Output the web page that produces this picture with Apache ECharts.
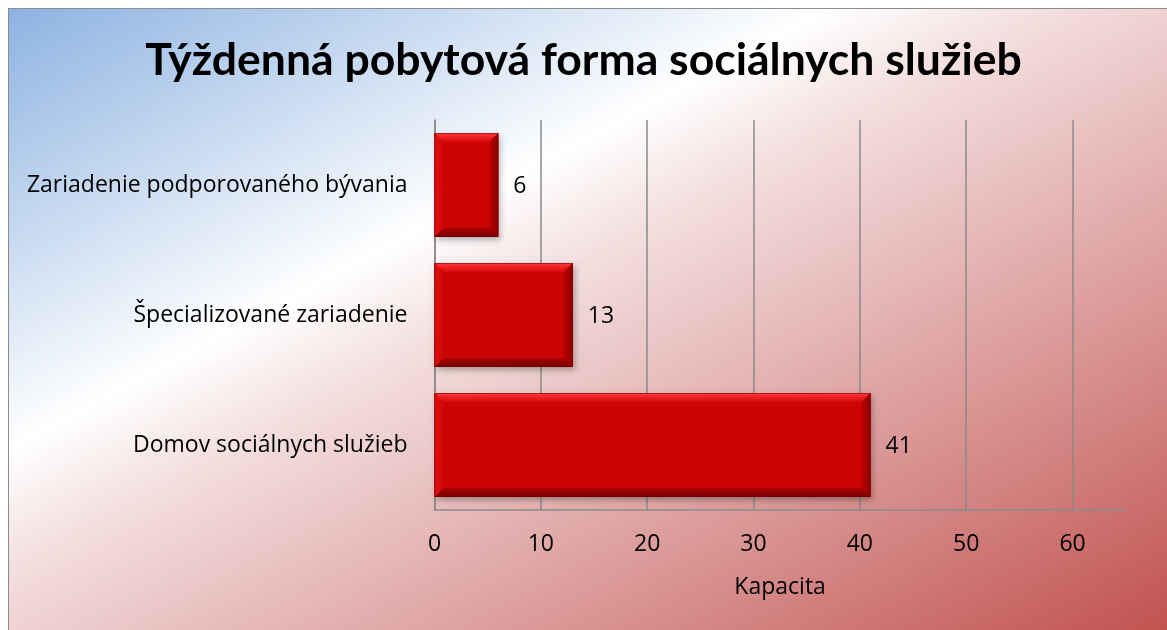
<!DOCTYPE html>
<html>
<head>
<meta charset="utf-8">
<script src="https://cdn.jsdelivr.net/npm/echarts@6/dist/echarts.min.js"></script>
<style>
  html, body { margin: 0; padding: 0; width: 1167px; height: 630px; overflow: hidden; background: #ffffff; }
  #frame {
    position: absolute; left: 8px; top: 8px; width: 1170px; height: 630px;
    border-left: 1.5px solid #8c8c8c; border-top: 1.5px solid #8c8c8c;
    background: linear-gradient(to bottom right, #8db3e2 0%, #c6d9f0 18%, #ffffff 35%, #f4e0e0 44%, #c0504d 100%);
  }
  #chart { position: absolute; left: 0; top: 0; width: 1167px; height: 630px; }
</style>
</head>
<body>
<div id="frame"></div>
<div id="chart"></div>
<script>
// Weekly residential social services – capacity per facility type (top to bottom)
const categories = [
  'Zariadenie podporovaného bývania',
  'Špecializované zariadenie',
  'Domov sociálnych služieb'
];
const capacity = [6, 13, 41];
const xTicks = { min: 0, max: 65, step: 10 };
const titleText = 'Týždenná pobytová forma sociálnych služieb';
const axisName = 'Kapacita';

const TEXT_FONT = '"Open Sans", Lato, sans-serif';
const TITLE_FONT = 'Lato, "Open Sans", sans-serif';
const chart = echarts.init(document.getElementById('chart'), null, { renderer: 'canvas' });

// Bevelled bar: flat face plus four shaded edge facets and a soft drop shadow
function renderBevelBar(params, api) {
  const catIdx = api.value(0);
  const val = api.value(1);
  const start = api.coord([0, catIdx]);
  const end = api.coord([val, catIdx]);
  const h = api.size([0, 1])[1] * 0.8;
  const x0 = start[0], x1 = end[0];
  const y0 = start[1] - h / 2, y1 = y0 + h;
  const b = Math.min(9, (x1 - x0) / 2);

  const lg = (x, y, x2, y2, c0, c1) => ({
    type: 'linear', x, y, x2, y2,
    colorStops: [{ offset: 0, color: c0 }, { offset: 1, color: c1 }]
  });

  return {
    type: 'group',
    children: [
      { // shadow body
        type: 'rect',
        shape: { x: x0, y: y0, width: x1 - x0, height: h },
        style: { fill: '#b00000', shadowBlur: 6, shadowOffsetX: 2, shadowOffsetY: 3, shadowColor: 'rgba(0,0,0,0.3)' }
      },
      { // face
        type: 'rect',
        shape: { x: x0, y: y0, width: x1 - x0, height: h },
        style: { fill: '#cc0404' }
      },
      { // top facet
        type: 'polygon',
        shape: { points: [[x0, y0], [x1, y0], [x1 - b, y0 + b], [x0 + b, y0 + b]] },
        style: { fill: lg(0, 0, 0, 1, '#ff3a3a', '#d80808') }
      },
      { // left facet
        type: 'polygon',
        shape: { points: [[x0, y0], [x0 + b, y0 + b], [x0 + b, y1 - b], [x0, y1]] },
        style: { fill: lg(0, 0, 1, 0, '#e41010', '#d00606') }
      },
      { // right facet
        type: 'polygon',
        shape: { points: [[x1, y0], [x1, y1], [x1 - b, y1 - b], [x1 - b, y0 + b]] },
        style: { fill: lg(0, 0, 1, 0, '#bc0202', '#8a0000') }
      },
      { // bottom facet
        type: 'polygon',
        shape: { points: [[x0, y1], [x0 + b, y1 - b], [x1 - b, y1 - b], [x1, y1]] },
        style: { fill: lg(0, 0, 0, 1, '#ac0000', '#760000') }
      },
      { // thin outline
        type: 'rect',
        shape: { x: x0 + 0.5, y: y0 + 0.5, width: x1 - x0 - 1, height: h - 1 },
        style: { fill: null, stroke: 'rgba(110,0,0,0.55)', lineWidth: 1 }
      },
      { // value label
        type: 'text',
        x: x1 + 15, y: start[1] + 1,
        style: { text: String(val), fill: '#000', font: '23px ' + TEXT_FONT, textAlign: 'left', textVerticalAlign: 'middle' }
      }
    ]
  };
}

chart.setOption({
  backgroundColor: 'transparent',
  animation: false,
  title: {
    text: titleText,
    left: 'center',
    top: 33,
    textStyle: { fontFamily: TITLE_FONT, fontWeight: 'bold', fontSize: 44.5, color: '#000' }
  },
  grid: { left: 434.5, right: 41.3, top: 120, bottom: 120, containLabel: false },
  xAxis: {
    type: 'value',
    min: xTicks.min, max: xTicks.max, interval: xTicks.step,
    name: axisName, nameLocation: 'middle', nameGap: 66,
    nameTextStyle: { fontFamily: TEXT_FONT, fontSize: 23, color: '#000' },
    axisLine: { show: true, lineStyle: { color: '#8a8a8a', width: 1.5 } },
    axisTick: { show: false },
    axisLabel: { fontFamily: TEXT_FONT, fontSize: 23, color: '#000', margin: 23, showMaxLabel: false },
    splitLine: { show: true, showMaxLine: false, lineStyle: { color: '#8a8a8a', width: 1.5 } }
  },
  yAxis: {
    type: 'category',
    data: categories,
    inverse: true,
    axisLine: { show: true, lineStyle: { color: '#8a8a8a', width: 1.5 } },
    axisTick: { show: false },
    axisLabel: { fontFamily: TEXT_FONT, fontSize: 23, color: '#000', margin: 27 },
    splitLine: { show: false }
  },
  series: [{
    type: 'custom',
    renderItem: renderBevelBar,
    encode: { x: 1, y: 0 },
    data: categories.map((c, i) => [i, capacity[i]]),
    clip: false,
    z: 3
  }]
});
</script>
</body>
</html>
